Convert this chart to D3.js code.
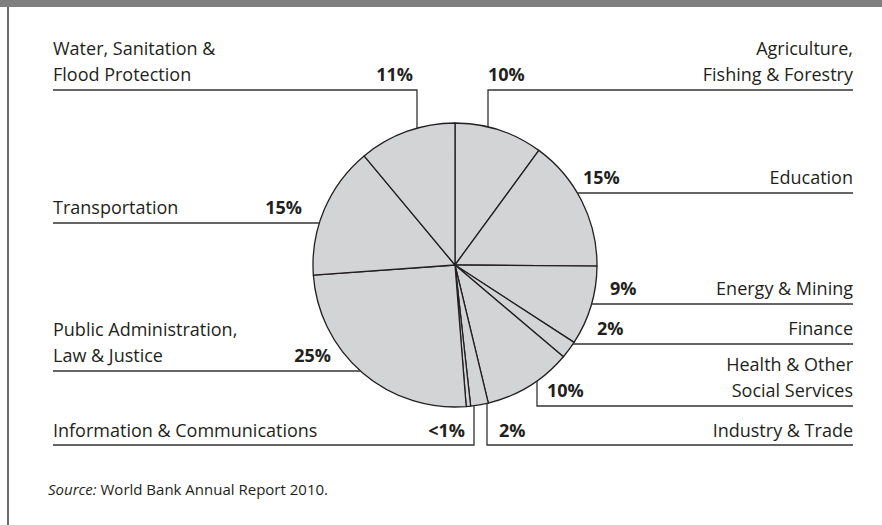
<!DOCTYPE html>
<html>
<head>
<meta charset="utf-8">
<script src="https://cdn.jsdelivr.net/npm/d3@7"></script>
<style>
  html, body { margin: 0; padding: 0; background: #fff; }
  svg { display: block; }
  text { font-family: "Open Sans", "Noto Sans", sans-serif; fill: #231f20; }
</style>
</head>
<body>
<svg id="chart" width="882" height="525"></svg>
<script>
// Sector shares of lending (percent), clockwise from 12 o'clock
const categories = [
  "Agriculture, Fishing & Forestry",
  "Education",
  "Energy & Mining",
  "Finance",
  "Health & Other Social Services",
  "Industry & Trade",
  "Information & Communications",
  "Public Administration, Law & Justice",
  "Transportation",
  "Water, Sanitation & Flood Protection"
];
const values = [10, 15, 9, 2, 10, 2, 0.5, 25, 15, 11];
const valueLabels = ["10%", "15%", "9%", "2%", "10%", "2%", "<1%", "25%", "15%", "11%"];
// How each category name is broken into lines
const nameLines = [
  ["Agriculture,", "Fishing & Forestry"],
  ["Education"],
  ["Energy & Mining"],
  ["Finance"],
  ["Health & Other", "Social Services"],
  ["Industry & Trade"],
  ["Information & Communications"],
  ["Public Administration,", "Law & Justice"],
  ["Transportation"],
  ["Water, Sanitation &", "Flood Protection"]
];

const svg = d3.select("#chart");
const W = 882, H = 525;
const cx = 455, cy = 265, R = 142;
const leftX = 53, rightX = 853;
const lineGap = 26;
const fontSize = 18;
const ink = "#231f20";

// frame: grey band on top, grey rule on the left
svg.append("rect").attr("x", 0).attr("y", 0).attr("width", W).attr("height", 7).attr("fill", "#808080");
svg.append("rect").attr("x", 7).attr("y", 7).attr("width", 2).attr("height", H - 7).attr("fill", "#6d6d6d");

// pie
const pie = d3.pie().sort(null).value(d => d);
const arcs = pie(values);
const arc = d3.arc().innerRadius(0).outerRadius(R);
const g = svg.append("g").attr("transform", `translate(${cx},${cy})`);
g.selectAll("path").data(arcs).join("path")
  .attr("d", arc)
  .attr("fill", "#d3d4d6")
  .attr("stroke", ink)
  .attr("stroke-width", 1.3)
  .attr("stroke-linejoin", "round");

// where a horizontal line at y meets the circle (side: -1 left, +1 right)
const edgeX = (y, side) => cx + side * Math.sqrt(R * R - (y - cy) * (y - cy));
// where a vertical line at x meets the circle (side: -1 top, +1 bottom)
const edgeY = (x, side) => cy + side * Math.sqrt(R * R - (x - cx) * (x - cx));

// label layout: side of the name, rule height, optional elbow x, value label anchor
const layout = [
  { side: "right", ruleY: 90,  elbowX: 488, elbowFrom: -1, pctX: 488, pctAnchor: "start", baseY: 81 },
  { side: "right", ruleY: 193, pctX: 583, pctAnchor: "start", baseY: 184 },
  { side: "right", ruleY: 304, pctX: 610, pctAnchor: "start", baseY: 295 },
  { side: "right", ruleY: 344, pctX: 597, pctAnchor: "start", baseY: 335 },
  { side: "right", ruleY: 406, elbowX: 537, elbowFrom: 1, pctX: 547, pctAnchor: "start", baseY: 397 },
  { side: "right", ruleY: 445, elbowX: 487, elbowFrom: 1, pctX: 499, pctAnchor: "start", baseY: 437 },
  { side: "left",  ruleY: 445, elbowX: 474, elbowFrom: 1, pctX: 465, pctAnchor: "end", baseY: 437 },
  { side: "left",  ruleY: 371, pctX: 331, pctAnchor: "end", baseY: 362 },
  { side: "left",  ruleY: 223, pctX: 302, pctAnchor: "end", baseY: 214 },
  { side: "left",  ruleY: 90,  elbowX: 417, elbowFrom: -1, pctX: 413, pctAnchor: "end", baseY: 81 }
];

const labels = svg.append("g");
categories.forEach((c, i) => {
  const L = layout[i];
  const s = L.side === "right" ? 1 : -1;
  const outerX = s > 0 ? rightX : leftX;
  let pts;
  if (L.elbowX !== undefined) {
    pts = [[L.elbowX, edgeY(L.elbowX, L.elbowFrom)], [L.elbowX, L.ruleY], [outerX, L.ruleY]];
  } else {
    pts = [[edgeX(L.ruleY, s), L.ruleY], [outerX, L.ruleY]];
  }
  labels.append("path")
    .attr("d", d3.line()(pts))
    .attr("fill", "none")
    .attr("stroke", "#333")
    .attr("stroke-width", 1.3);

  // category name
  const lines = nameLines[i];
  const t = labels.append("text")
    .attr("x", outerX)
    .attr("text-anchor", s > 0 ? "end" : "start")
    .attr("font-size", fontSize)
    .attr("font-weight", 500);
  lines.forEach((ln, k) => {
    t.append("tspan")
      .attr("x", outerX)
      .attr("y", L.baseY - (lines.length - 1 - k) * lineGap)
      .text(ln);
  });

  // value
  labels.append("text")
    .attr("x", L.pctX)
    .attr("y", L.baseY)
    .attr("text-anchor", L.pctAnchor)
    .attr("font-size", fontSize)
    .attr("font-weight", "bold")
    .text(valueLabels[i]);
});

// source note
const src = svg.append("text").attr("x", 48).attr("y", 495).attr("font-size", 15);
src.append("tspan").attr("font-style", "italic").text("Source:");
src.append("tspan").text(" World Bank Annual Report 2010.");
</script>
</body>
</html>
